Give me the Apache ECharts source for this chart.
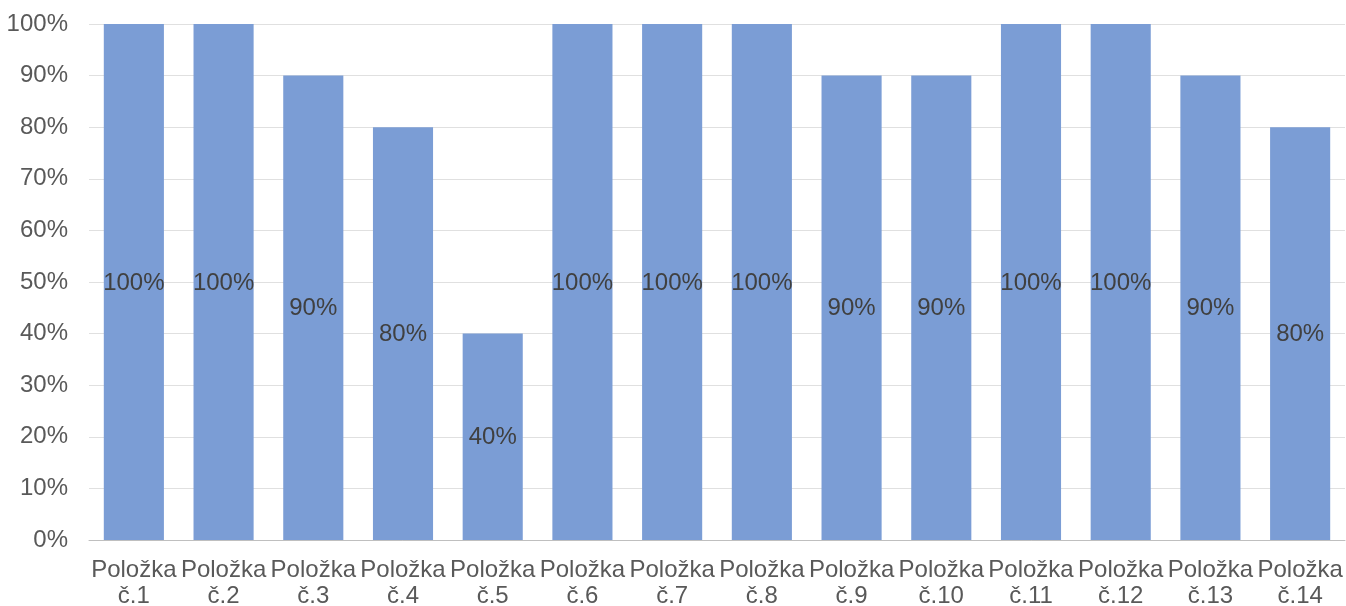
<!DOCTYPE html>
<html>
<head>
<meta charset="utf-8">
<script src="https://cdn.jsdelivr.net/npm/echarts@6/dist/echarts.min.js"></script>
<style>
  html, body { margin: 0; padding: 0; background: #fff; overflow: hidden; }
  #chart { width: 1346px; height: 606px; }
</style>
</head>
<body>
<div id="chart"></div>
<script>
// Categories and their percentage values
const categories = [
  'Položka\nč.1', 'Položka\nč.2', 'Položka\nč.3', 'Položka\nč.4', 'Položka\nč.5',
  'Položka\nč.6', 'Položka\nč.7', 'Položka\nč.8', 'Položka\nč.9', 'Položka\nč.10',
  'Položka\nč.11', 'Položka\nč.12', 'Položka\nč.13', 'Položka\nč.14'
];
const values = [100, 100, 90, 80, 40, 100, 100, 100, 90, 90, 100, 100, 90, 80];

const chart = echarts.init(document.getElementById('chart'), null, { renderer: 'canvas' });
const font = '"Liberation Sans", Arial, sans-serif';

chart.setOption({
  animation: false,
  grid: {
    left: 89, right: 1, top: 24, bottom: 66,
    containLabel: false,
    outerBoundsMode: 'none'
  },
  xAxis: {
    type: 'category',
    data: categories,
    axisLine: { show: true, lineStyle: { color: '#bfbfbf', width: 1 } },
    axisTick: { show: false },
    axisLabel: {
      interval: 0,
      color: '#595959',
      fontFamily: font,
      fontSize: 24,
      lineHeight: 26,
      margin: 17
    }
  },
  yAxis: {
    type: 'value',
    min: 0,
    max: 100,
    interval: 10,
    axisLine: { show: false },
    axisTick: { show: false },
    splitLine: { lineStyle: { color: '#e0e0e0', width: 1 } },
    axisLabel: {
      formatter: '{value}%',
      color: '#595959',
      fontFamily: font,
      fontSize: 24,
      margin: 21
    }
  },
  series: [{
    type: 'bar',
    data: values,
    barCategoryGap: '33%',
    itemStyle: { color: '#7b9dd5' },
    label: {
      show: true,
      position: 'inside',
      formatter: '{c}%',
      color: '#404040',
      fontFamily: font,
      fontSize: 24,
      offset: [0, 1]
    }
  }]
});
</script>
</body>
</html>
